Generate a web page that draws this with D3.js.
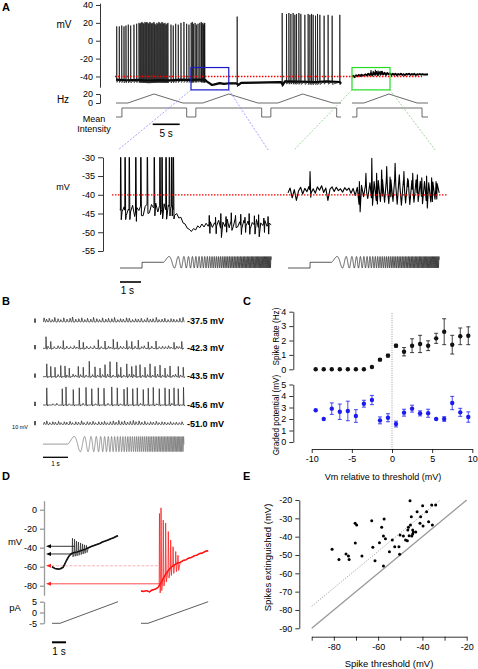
<!DOCTYPE html>
<html><head><meta charset="utf-8">
<script src="https://cdn.jsdelivr.net/npm/d3@7"></script>
<style>body{margin:0;background:#fff}</style>
</head><body>
<svg id="c" width="478" height="669" xmlns="http://www.w3.org/2000/svg"></svg>
<script>
// ================= DATA =================
// Panel A (top) – segment 1 baseline [s, mV] and spikes [s, peak mV]
const aTopBase1 = [[0,-43.5],[2,-44.2],[4,-43.8],[6,-44.5],[8,-44],[10,-44.3],[12,-43.6],[14,-43.8],[15.5,-43.4],[16.5,-43.8],[16.8,-45.5],[17.3,-47.5],[17.8,-49.5],[18.5,-48.5],[19.2,-47.5],[20,-48.2],[21,-47.6],[22.3,-47.8],[22.7,-49.5],[23.2,-47.2],[26,-46.8],[30.6,-46.4],[30.9,-49.5],[31.3,-45.5],[34,-45.8],[37,-46.2],[39,-45.5],[41.5,-46.2],[41.7,-48]];
const aTopSpikes1 = [[0.13,16],[0.61,16],[1.06,17],[1.48,16],[1.85,17],[2.28,18],[2.72,17],[3.33,18],[3.83,19],[4.26,20],[4.45,19],[4.62,20],[4.81,21],[5.0,20],[5.17,19],[5.37,21],[5.55,20],[5.72,21],[5.93,20],[6.1,19],[6.28,21],[6.48,20],[6.65,19],[6.84,20],[7.04,21],[7.2,19],[7.4,18],[7.59,20],[7.77,19],[7.96,21],[8.15,20],[8.33,19],[8.52,21],[8.7,20],[8.88,19],[9.07,20],[9.26,18],[9.44,19],[9.62,20],[10.19,18],[10.61,17],[11.06,19],[11.54,18],[12.04,20],[12.59,21],[13.09,19],[13.52,18],[13.93,20],[14.14,21],[14.34,19],[14.65,20],[14.89,18],[15.2,19],[15.53,20],[15.8,21],[15.9,19],[16.09,20],[16.25,18],[16.36,19],[16.44,20],[22.46,27],[30.8,31],[31.6,30],[32.04,31],[32.41,30],[32.83,31],[33.15,29],[33.46,30],[33.89,31],[34.26,30],[35.0,29],[35.61,30],[35.93,29],[36.24,30],[36.54,29],[36.98,28],[37.35,30],[37.78,29],[38.57,28],[39.31,29],[40.06,28],[41.48,29]];
// segment 2 (sampled every 0.25 s)
const aTopBase2 = [-40.5,-39.2,-40.8,-38.6,-39.9,-38.2,-39.5,-37.9,-39.1,-38.4,-37.6,-39.0,-36.8,-38.7,-36.2,-38.9,-35.5,-38.2,-34.8,-38.5,-35.2,-38.0,-34.5,-37.8,-35.8,-38.3,-36.0,-37.6,-36.5,-38.4,-37.0,-38.1,-36.8,-38.6,-37.2,-38.0,-36.9,-38.3,-37.4,-38.5,-37.1,-37.9,-36.8,-38.2,-37.3,-38.0,-37.0,-38.4,-37.5,-37.8,-37.2,-38.1,-37.4,-37.9,-37.6,-37.8,-37.5];
const aTopSpikes2 = [[3.5,-33],[3.9,-34],[4.3,-32.5],[4.8,-33.5],[5.3,-34]];
// Frequency (Hz) and mean-intensity protocol rows
const hz1 = [[0,0],[2.2,0],[7.04,20],[12.4,0],[16.1,0],[20.9,20],[26.3,0],[30,0],[34.6,20],[40.2,0],[41.7,0]];
const hz2 = [[0,0],[2.2,0],[6.8,20],[12,0],[14,0]];
const int1 = [[0,0],[1.1,0],[1.1,1],[13.1,1],[13.1,0],[14.8,0],[14.8,1],[27,1],[27,0],[28.7,0],[28.7,1],[40.9,1],[40.9,0],[41.7,0]];
const int2 = [[0,0],[0.9,0],[0.9,1],[12.9,1],[12.9,0],[14,0]];
const aTicks = [-40,-20,0,20,40];

// Panel A (lower) – sampled every 0.1 s
const aLowLeft = [-44.0,-44.5,-43.2,-45.5,-43.8,-44.6,-42.8,-45.8,-43.4,-44.2,-42.9,-45.6,-43.1,-42.5,-44.8,-42.6,-43.5,-42.2,-44.6,-42.8,-43.9,-42.4,-44.2,-42.7,-43.6,-42.9,-45.5,-45.0,-46.2,-46.0,-47.5,-47.8,-48.9,-49.2,-49.8,-49.0,-49.4,-48.3,-48.8,-47.8,-48.6,-47.6,-48.4,-47.2,-48.7,-47.5,-48.3,-46.8,-48.9,-47.3,-48.5,-46.5,-48.8,-47.0,-48.4,-46.3,-48.6,-47.2,-49.0,-46.8,-48.3,-47.0,-49.1,-47.4,-48.0,-46.6,-48.7,-47.5,-48.2,-46.9,-48.4,-47.6,-48.0];
const aLowLeftSpikes = [[0.03,-20],[0.24,-20],[0.44,-20],[0.75,-20],[0.99,-20],[1.3,-20],[1.63,-20],[1.9,-20],[2.0,-20],[2.19,-20],[2.35,-20],[2.46,-20],[2.54,-20],[4.25,-45.5],[4.55,-46],[4.8,-45],[5.05,-45.8],[5.3,-44.8],[5.5,-45.5],[5.75,-45.2],[5.95,-46],[6.15,-45],[6.4,-45.6],[6.6,-45.3],[6.85,-46.2],[7.05,-45.8]];
const aLowRight = [-39.5,-38.2,-40.8,-38.6,-41.5,-39.0,-38.0,-39.8,-38.3,-39.2,-37.8,-39.5,-38.4,-39.6,-37.9,-38.8,-37.6,-39.4,-38.2,-41.5,-38.5,-37.9,-39.1,-38.0,-38.9,-38.4,-39.3,-38.1,-38.8,-38.2,-39.6,-38.3,-40.2,-38.0,-42.5,-37.5,-40.5,-37.0,-41.0,-36.8,-41.2,-36.5,-41.5,-36.2,-41.8,-36.0,-42.0,-36.3,-42.3,-36.0,-41.8,-35.8,-42.5,-36.1,-42.8,-36.0,-42.2,-35.7,-42.6,-36.2,-42.0,-36.0,-41.8,-36.4,-42.1,-36.5,-41.5,-36.8,-41.9,-36.6,-41.2,-37.0,-39.5];
const aLowRightSpikes = [[1.05,-33.8],[3.4,-36.5],[3.71,-34.3],[3.99,-30.3],[4.22,-34.3],[4.46,-33.4],[4.7,-32.5],[4.86,-35.3],[5.1,-31.6],[5.3,-34.7],[5.52,-33.8],[5.73,-36.1],[5.94,-34.3],[6.16,-34.7],[6.37,-35.5],[6.6,-35],[6.84,-35.5],[7.05,-36.5]];
const aLowTicks = [-55,-50,-45,-40,-35,-30];
// stimulus: [step time, chirp start, end, start Hz, end Hz]
const stimA = [1.05, 2.08, 7.2, 0.5, 20];
const stimB = [0, 1.0, 5.64, 0.5, 20];

// Panel B – events [s, amplitude mV]
const bLabels = ["-37.5 mV","-42.3 mV","-43.5 mV","-45.6 mV","-51.0 mV"];
const b1 = [[0.04,9],[0.14,6],[0.25,8],[0.37,5],[0.47,10],[0.6,7],[0.71,5],[0.83,9],[0.96,6],[1.08,8],[1.18,11],[1.31,6],[1.43,7],[1.55,9],[1.67,5],[1.78,8],[1.91,6],[2.02,10],[2.15,7],[2.26,5],[2.38,9],[2.51,6],[2.62,8],[2.75,7],[2.86,10],[2.99,5],[3.1,7],[3.21,6],[3.34,9],[3.45,8],[3.58,5],[3.7,7],[3.81,6],[3.93,8],[4.06,5],[4.17,9],[4.29,6],[4.4,7],[4.53,10],[4.64,5],[4.76,6],[4.87,8],[5.0,5],[5.12,7],[5.23,6],[5.35,5],[5.47,8],[5.6,10]];
const b2 = [[0.12,27],[0.2,5],[0.31,16],[0.45,4],[0.6,6],[0.7,4],[0.81,18],[0.95,5],[1.1,4],[1.25,6],[1.35,3],[1.45,19],[1.61,14],[1.75,5],[1.9,4],[2.05,6],[2.21,20],[2.33,4],[2.48,17],[2.62,5],[2.7,3],[2.81,21],[2.97,15],[3.1,5],[3.22,4],[3.35,18],[3.45,4],[3.55,16],[3.68,5],[3.81,19],[3.95,4],[4.05,6],[4.21,15],[4.35,5],[4.52,17],[4.65,4],[4.78,5],[4.9,4],[5.02,6],[5.12,3],[5.24,14],[5.35,5],[5.45,4],[5.55,16]];
const b3 = [[0.15,30],[0.31,24],[0.48,22],[0.6,5],[0.71,26],[0.88,25],[0.95,4],[1.05,20],[1.2,6],[1.3,4],[1.41,24],[1.5,5],[1.61,22],[1.72,4],[1.85,36],[1.98,5],[2.08,23],[2.18,4],[2.28,20],[2.38,5],[2.48,28],[2.58,6],[2.68,35],[2.8,4],[2.95,34],[3.02,5],[3.11,22],[3.23,4],[3.35,30],[3.45,6],[3.55,24],[3.63,5],[3.72,26],[3.88,28],[3.98,4],[4.08,22],[4.18,5],[4.28,30],[4.38,4],[4.48,24],[4.58,6],[4.68,27],[4.78,4],[4.88,20],[4.98,5],[5.08,25],[5.2,4],[5.3,6],[5.41,24],[5.5,4],[5.61,22]];
const b4 = [[0.15,40],[0.4,3],[0.55,4],[0.77,38],[0.92,42],[1.05,3],[1.21,36],[1.45,40],[1.6,4],[1.72,41],[1.95,38],[2.1,3],[2.21,40],[2.44,39],[2.6,4],[2.75,42],[2.97,40],[3.1,3],[3.24,37],[3.37,41],[3.59,38],[3.77,40],[3.9,4],[4.01,36],[4.21,39],[4.41,41],[4.55,3],[4.65,38],[4.88,40],[5.05,37],[5.15,4],[5.24,40],[5.41,38],[5.62,41]];
const b5 = [[0.05,5],[0.15,8],[0.27,4],[0.39,6],[0.49,5],[0.62,7],[0.72,4],[0.85,6],[0.95,5],[1.08,7],[1.18,4],[1.31,6],[1.42,5],[1.54,8],[1.64,4],[1.77,6],[1.88,5],[2.0,7],[2.1,4],[2.23,6],[2.35,5],[2.46,7],[2.57,4],[2.69,6],[2.81,8],[2.92,5],[3.03,9],[3.15,6],[3.26,8],[3.38,5],[3.49,7],[3.61,9],[3.72,6],[3.84,8],[3.95,5],[4.07,7],[4.18,4],[4.3,6],[4.41,5],[4.53,7],[4.64,4],[4.76,6],[4.87,5],[4.99,4],[5.1,6],[5.22,4],[5.33,5],[5.45,4],[5.56,6]];

// Panel C
const cX = [-9.5,-8.5,-7.5,-6.5,-5.5,-4.5,-3.5,-2.5,-1.5,-0.5,0.5,1.5,2.5,3.5,4.5,5.5,6.5,7.5,8.5,9.5];
const rate = [0,0,0,0,0,0,0,0.16,0.67,0.95,1.64,1.22,1.64,1.76,1.64,2.15,2.61,1.71,2.29,2.33];
const rateErr = [0,0,0,0,0,0,0,0.05,0.08,0.1,0.1,0.29,0.48,0.6,0.34,0.35,0.9,0.65,0.58,0.62];
const graded = [2.76,2.0,2.9,2.63,2.7,2.26,3.33,3.65,1.88,2.11,1.56,2.55,2.9,2.49,2.5,2.0,2.0,3.39,2.58,2.17];
const gradedErr = [0.06,0.05,0.5,0.67,0.85,0.55,0.3,0.4,0.3,0.35,0.25,0.3,0.3,0.22,0.35,0.06,0.2,0.58,0.35,0.45];

// Panel D – sampled every 0.2 s (last point at end)
const dBlack = [-60,-61.8,-62.5,-62.2,-60.5,-54.5,-49,-46,-45,-44.5,-43.5,-42.5,-41.5,-40,-38.8,-37.6,-36.5,-35.5,-34,-33,-31.8,-30.5,-29.5,-28,-27.3];
const dBlackSpikes = [[1.46,-30],[1.61,-31],[1.75,-33],[1.89,-34],[2.04,-35],[2.18,-36],[2.32,-37],[2.46,-37.5]];
const dRed = [-85.5,-86,-85.2,-86.5,-84.5,-83.8,-82,-78,-72,-67,-63,-60,-58,-56,-55.5,-53.5,-52.8,-51,-50.2,-48.5,-47.8,-46,-45.5,-43.8,-43.2];
const dRedSpikes = [[1.32,-4],[1.43,2],[1.59,-11],[1.76,-14],[1.95,-23],[2.12,-32],[2.29,-39],[2.48,-44],[2.64,-48]];
const dRampBlack = [[0,-5],[0.57,-5],[4.71,5]];
const dRampRed = [[0,-5],[0.5,-5],[4.8,5]];
const dArrowsBlack = [[1.64,-38.5],[1.5,-46.6]];
const dArrowsRed = [[1.21,-59,true],[1.36,-78,false]];

// Panel E
const eThresh = [-80.8,-77.7,-74.5,-73.4,-73.1,-70.3,-70.4,-69.7,-67.3,-62.9,-62.4,-61.4,-57.3,-58.4,-57.6,-56.7,-59.4,-57.6,-54.9,-53.6,-52.5,-50.6,-50.3,-50.1,-48.6,-47.6,-46.8,-46.6,-46.3,-46.0,-45.6,-45.4,-45.0,-44.8,-44.4,-44.4,-44.1,-43.0,-42.4,-41.1,-40.8,-39.9,-39.7,-38.1,-37.2,-35.8,-35.5,-34.0];
const eExt = [-46.9,-52.4,-49.5,-50.5,-52.4,-43.5,-32.7,-33.6,-50.5,-31.3,-45.8,-53.1,-30.4,-34.9,-39.6,-41.1,-43.3,-56.0,-48.2,-41.8,-45.5,-45.5,-49.6,-39.1,-39.6,-41.8,-42.2,-36.4,-34.9,-39.5,-20.4,-33.6,-29.1,-39.6,-36.4,-38.5,-37.5,-37.5,-26.4,-32.7,-29.1,-23.1,-34.2,-26.4,-31.8,-22.7,-33.6,-22.7];

// ================= HELPERS =================
const FF = "'Liberation Sans', Arial, Helvetica, sans-serif";
const svg = d3.select("#c");
svg.append("rect").attr("width",478).attr("height",669).attr("fill","#fff");

function txt(x, y, s, o = {}) {
  const t = svg.append("text").attr("x", x).attr("y", y).text(s)
    .attr("font-family", FF).attr("font-size", o.size || 9)
    .attr("text-anchor", o.anchor || "start").attr("fill", o.fill || "#000");
  if (o.bold) t.attr("font-weight", "bold");
  if (o.rot) t.attr("transform", `rotate(${o.rot},${x},${y})`);
  if (o.dy) t.attr("dy", o.dy);
  return t;
}
function axis(g, ax, color = "#000", w = 0.8, size = 9) {
  g.call(ax);
  g.attr("font-family", FF).attr("font-size", size);
  g.selectAll(".domain, .tick line").attr("stroke", color).attr("stroke-width", w);
  g.selectAll(".tick text").attr("fill", "#000");
}
const fmt = d => String(d);
function sampled(vals, dt, tEnd) {
  return vals.map((v, i) => [Math.min(i * dt, tEnd !== undefined ? tEnd : 1e9), v]);
}
function interp(s, t) {
  if (t <= s[0][0]) return s[0][1];
  for (let i = 1; i < s.length; i++) if (t <= s[i][0]) {
    const a = s[i-1], b = s[i]; const f = (t - a[0]) / (b[0] - a[0] || 1);
    return a[1] + f * (b[1] - a[1]);
  }
  return s[s.length-1][1];
}
function withSpikes(base, spikes, up, down, ahp) {
  const win = spikes.map(d => [d[0] - up, d[0] + down]);
  let pts = base.filter(p => !win.some(w => p[0] > w[0] && p[0] < w[1]));
  spikes.forEach(([ts, pk]) => {
    const b = interp(base, ts);
    pts.push([ts - up, b], [ts, pk], [ts + down, b - ahp]);
  });
  return pts.sort((a, b) => a[0] - b[0]);
}
function events(list, tEnd) {
  const pts = [[0, 0]];
  list.forEach(([t, a]) => {
    if (a > 12) pts.push([t - 0.008, 0], [t, a], [t + 0.016, a * 0.12], [t + 0.035, -2.5], [t + 0.06, 0]);
    else pts.push([t - 0.02, 0], [t, a], [t + 0.03, a * 0.3], [t + 0.055, -a * 0.12]);
  });
  pts.push([tEnd, 0]);
  return pts.sort((a, b) => a[0] - b[0]);
}
function chirp(p, tEnd) {
  const [tStep, tChirp, tE, f0, f1] = p;
  const pts = [];
  if (tStep > 0) pts.push([0, -1], [tStep, -1]);
  pts.push([tStep, 0], [tChirp, 0]);
  const k = (f1 - f0) / (tE - tChirp);
  for (let t = tChirp; t <= tE; t += 0.0025) {
    const u = t - tChirp;
    pts.push([t, Math.sin(2 * Math.PI * (f0 * u + k * u * u / 2))]);
  }
  return pts;
}
function path(pts, xs, ys, stroke, w, extra = {}) {
  const p = svg.append("path").attr("d", d3.line().x(d => xs(d[0])).y(d => ys(d[1]))(pts))
    .attr("fill", "none").attr("stroke", stroke).attr("stroke-width", w)
    .attr("stroke-linejoin", "round");
  if (extra.dash) p.attr("stroke-dasharray", extra.dash);
  if (extra.clip) p.attr("clip-path", extra.clip);
  if (extra.opacity) p.attr("opacity", extra.opacity);
  return p;
}

// ================= PANEL A (top) =================
txt(2, 11, "A", { size: 11, bold: true });
const xA1 = d3.scaleLinear().domain([0, 41.7]).range([116, 341]);
const xA2 = d3.scaleLinear().domain([0, 14]).range([352, 428]);
const yA = d3.scaleLinear().domain([-52, 42]).range([87.2, 3.2]);
const yHz = d3.scaleLinear().domain([0, 20]).range([103, 94]);
const yInt = d3.scaleLinear().domain([0, 1]).range([117, 108]);

axis(svg.append("g").attr("transform", "translate(100,0)"),
  d3.axisLeft(yA).tickValues(aTicks).tickSize(4).tickSizeOuter(0).tickPadding(3).tickFormat(fmt));
axis(svg.append("g").attr("transform", "translate(100,0)"),
  d3.axisLeft(yHz).tickValues([0, 20]).tickSize(4).tickSizeOuter(0).tickPadding(3).tickFormat(fmt));
txt(64, 28, "mV", { size: 10, anchor: "middle" });
txt(63, 103, "Hz", { size: 10, anchor: "middle" });
txt(94, 122, "Mean", { size: 9, anchor: "middle" });
txt(94, 131.5, "Intensity", { size: 9, anchor: "middle" });

// traces
path(aTopBase1, xA1, yA, "#000", 2.2);
path(withSpikes(aTopBase1, aTopSpikes1, 0.015, 0.04, 3), xA1, yA, "#111", 0.75);
const seg2 = sampled(aTopBase2, 0.25, 14);
path(seg2, xA2, yA, "#000", 1.8);
path(withSpikes(seg2, aTopSpikes2, 0.03, 0.05, 1), xA2, yA, "#000", 0.7);

// threshold line
svg.append("line").attr("x1", xA1(-0.2)).attr("x2", xA2(12.9)).attr("y1", yA(-40)).attr("y2", yA(-40))
  .attr("stroke", "#ff0000").attr("stroke-width", 1.3).attr("stroke-dasharray", "1.5,1.5");

// protocol rows
path(hz1, xA1, yHz, "#444", 0.8); path(hz2, xA2, yHz, "#444", 0.8);
path(int1, xA1, yInt, "#444", 0.8); path(int2, xA2, yInt, "#444", 0.8);

// scale bar 5 s
svg.append("line").attr("x1", xA1(6.8)).attr("x2", xA1(11.8)).attr("y1", 124.3).attr("y2", 124.3).attr("stroke", "#000").attr("stroke-width", 1.6);
txt(xA1(9.3), 137, "5 s", { size: 10, anchor: "middle" });

// zoom boxes
const boxB = [13.9, 20.9], boxG = [0, 7.0];
svg.append("rect").attr("x", xA1(boxB[0])).attr("y", yA(-30)).attr("width", xA1(boxB[1]) - xA1(boxB[0])).attr("height", yA(-55) - yA(-30))
  .attr("fill", "none").attr("stroke", "#1818c8").attr("stroke-width", 1.2);
svg.append("rect").attr("x", xA2(boxG[0])).attr("y", yA(-30)).attr("width", xA2(boxG[1]) - xA2(boxG[0])).attr("height", yA(-55) - yA(-30))
  .attr("fill", "none").attr("stroke", "#22dd22").attr("stroke-width", 1.2);

// ================= PANEL A (lower) =================
const xL1 = d3.scaleLinear().domain([0, 7.2]).range([120, 271.2]);
const xL2 = d3.scaleLinear().domain([0, 7.2]).range([288, 439.2]);
const yL = d3.scaleLinear().domain([-55, -30]).range([251, 157.3]);
const yStimA = d3.scaleLinear().domain([-1, 1]).range([268, 256.5]);

// connector lines
[[xA1(boxB[0]), xL1(0) - 2, "#8c8cff"], [xA1(boxB[1]), xL1(7.2) - 3, "#8c8cff"],
 [xA2(boxG[0]), xL2(0) + 6, "#88cc88"], [xA2(boxG[1]), xL2(7.2) - 4, "#88cc88"]].forEach(([x1, x2, c]) => {
  svg.append("line").attr("x1", x1).attr("y1", yA(-55)).attr("x2", x2).attr("y2", 150)
    .attr("stroke", c).attr("stroke-width", 0.8).attr("stroke-dasharray", "2,1.5");
});

axis(svg.append("g").attr("transform", "translate(103,0)"),
  d3.axisLeft(yL).tickValues(aLowTicks).tickSize(5).tickSizeOuter(0).tickPadding(3).tickFormat(fmt));
txt(63, 190, "mV", { size: 9, anchor: "middle" });

svg.append("clipPath").attr("id", "clipL").append("rect").attr("x", 100).attr("y", yL(-30)).attr("width", 378).attr("height", 120);
const left = sampled(aLowLeft, 0.1, 7.2);
path(withSpikes(left, aLowLeftSpikes, 0.012, 0.03, 2.5), xL1, yL, "#000", 1.0, { clip: "url(#clipL)" });
const right = sampled(aLowRight, 0.1, 7.2);
path(withSpikes(right, aLowRightSpikes, 0.02, 0.035, 2), xL2, yL, "#000", 1.1, { clip: "url(#clipL)" });

svg.append("line").attr("x1", 112).attr("x2", 447).attr("y1", yL(-40)).attr("y2", yL(-40))
  .attr("stroke", "#ff0000").attr("stroke-width", 1.3).attr("stroke-dasharray", "1.5,1.5");

const chA = chirp(stimA, 7.2);
path(chA, xL1, yStimA, "#222", 0.75);
path(chA, xL2, yStimA, "#222", 0.75);
svg.append("line").attr("x1", xL1(0)).attr("x2", xL1(1)).attr("y1", 282).attr("y2", 282).attr("stroke", "#000").attr("stroke-width", 1.6);
txt(xL1(0.35), 294, "1 s", { size: 10, anchor: "middle" });

// ================= PANEL B =================
txt(2, 305, "B", { size: 11, bold: true });
const xB = d3.scaleLinear().domain([0, 5.64]).range([43, 184]);
const bBaseY = [321.7, 348.3, 376.7, 405, 424.3];
[b1, b2, b3, b4, b5].forEach((ev, i) => {
  const yB = d3.scaleLinear().domain([0, 10]).range([bBaseY[i], bBaseY[i] - 4.3]);
  path(events(ev, 5.64), xB, yB, "#222", 0.7);
  svg.append("line").attr("x1", 35).attr("x2", 35).attr("y1", yB(0) + 1).attr("y2", yB(10) + 1).attr("stroke", "#000").attr("stroke-width", 1.3);
  txt(187, bBaseY[i] + 2.5, bLabels[i], { size: 9, bold: true });
});
txt(28, 428.5, "10 mV", { size: 5.5, anchor: "end" });
const yStimB = d3.scaleLinear().domain([-1, 1]).range([451.7, 436.5]);
path(chirp(stimB, 5.64), xB, yStimB, "#555", 0.6);
svg.append("line").attr("x1", xB(0)).attr("x2", xB(1)).attr("y1", 457.3).attr("y2", 457.3).attr("stroke", "#000").attr("stroke-width", 1.3);
txt(xB(0.5), 466, "1 s", { size: 6.5, anchor: "middle" });

// ================= PANEL C =================
txt(243, 305, "C", { size: 11, bold: true });
const xC = d3.scaleLinear().domain([-10, 10]).range([311.7, 472.3]);
const yC1 = d3.scaleLinear().domain([0, 4]).range([369.3, 311.7]);
const yC2 = d3.scaleLinear().domain([0, 5]).range([442, 384.5]);
axis(svg.append("g").attr("transform", "translate(0,449)"),
  d3.axisBottom(xC).tickValues([-10, -5, 0, 5, 10]).tickSize(4).tickSizeOuter(0).tickPadding(3).tickFormat(fmt), "#000", 0.8, 9);
axis(svg.append("g").attr("transform", "translate(293.3,0)"),
  d3.axisLeft(yC1).tickValues([0, 1, 2, 3, 4]).tickSize(4).tickSizeOuter(0).tickPadding(3).tickFormat(fmt));
axis(svg.append("g").attr("transform", "translate(293.3,0)"),
  d3.axisLeft(yC2).tickValues([0, 1, 2, 3, 4, 5]).tickSize(4).tickSizeOuter(0).tickPadding(3).tickFormat(fmt));
svg.append("line").attr("x1", xC(0)).attr("x2", xC(0)).attr("y1", 313).attr("y2", 449)
  .attr("stroke", "#888").attr("stroke-width", 0.8).attr("stroke-dasharray", "1,1.3");
txt(276, 336.5, "Spike Rate (Hz)", { size: 8.2, anchor: "middle", rot: -90, dy: "0.35em" });
txt(276, 415, "Graded potential (mV)", { size: 8.2, anchor: "middle", rot: -90, dy: "0.35em" });
txt(383, 480, "Vm relative to threshold (mV)", { size: 9, anchor: "middle" });
function errPlot(vals, errs, ys, color) {
  cX.forEach((x, i) => {
    const e = errs[i];
    if (e > 0.07) {
      const g = svg.append("g").attr("stroke", color).attr("stroke-width", 0.8);
      g.append("line").attr("x1", xC(x)).attr("x2", xC(x)).attr("y1", ys(vals[i] - e)).attr("y2", ys(vals[i] + e));
      [vals[i] - e, vals[i] + e].forEach(v => g.append("line").attr("x1", xC(x) - 2).attr("x2", xC(x) + 2).attr("y1", ys(v)).attr("y2", ys(v)));
    }
    svg.append("circle").attr("cx", xC(x)).attr("cy", ys(vals[i])).attr("r", 2.2).attr("fill", color);
  });
}
errPlot(rate, rateErr, yC1, "#111");
errPlot(graded, gradedErr, yC2, "#1c1cf0");

// ================= PANEL D =================
txt(2, 480, "D", { size: 11, bold: true });
const xD1 = d3.scaleLinear().domain([0, 4.71]).range([52, 118]);
const xD2 = d3.scaleLinear().domain([0, 4.8]).range([141, 208.2]);
const yD = d3.scaleLinear().domain([-90, 9.5]).range([595.2, 500.7]);
const yPA = d3.scaleLinear().domain([-5, 5]).range([623.3, 601.7]);
axis(svg.append("g").attr("transform", "translate(44,0)"),
  d3.axisLeft(yD).tickValues([0, -20, -40, -60, -80]).tickSize(4).tickSizeOuter(0).tickPadding(3).tickFormat(fmt), "#999", 1.3);
axis(svg.append("g").attr("transform", "translate(44,0)"),
  d3.axisLeft(yPA).tickValues([-5, 0, 5]).tickSize(4).tickSizeOuter(0).tickPadding(3).tickFormat(fmt), "#999", 1.3);
txt(15, 544.5, "mV", { size: 9.5, anchor: "middle" });
txt(15, 611, "pA", { size: 9.5, anchor: "middle" });

// arrows
function arrow(x0, v, color, headColor, dash) {
  const y = yD(v);
  const l = svg.append("line").attr("x1", x0).attr("x2", 49).attr("y1", y).attr("y2", y)
    .attr("stroke", color).attr("stroke-width", 0.8);
  if (dash) l.attr("stroke-dasharray", dash);
  svg.append("path").attr("d", `M46,${y} L51,${y - 2} L51,${y + 2} Z`).attr("fill", headColor);
}
dArrowsBlack.forEach(([t, v]) => arrow(xD1(t), v, "#000", "#000"));
dArrowsRed.forEach(([t, v, dashed]) => arrow(xD2(t), v, dashed ? "#f8a0a0" : "#ff2020", "#ff2020", dashed ? "3,1.5" : null));

const dB = sampled(dBlack, 0.2, 4.71);
path(dB, xD1, yD, "#000", 1.6);
path(withSpikes(dB, dBlackSpikes, 0.02, 0.04, 4), xD1, yD, "#222", 0.7);
const dR = sampled(dRed, 0.2, 4.8);
path(dR, xD2, yD, "#ff0000", 1.5);
path(withSpikes(dR, dRedSpikes, 0.02, 0.05, 8), xD2, yD, "#ff2020", 0.8);
path(dRampBlack, xD1, yPA, "#333", 0.8);
path(dRampRed, xD2, yPA, "#333", 0.8);
svg.append("line").attr("x1", xD1(0)).attr("x2", xD1(1)).attr("y1", 642.3).attr("y2", 642.3).attr("stroke", "#000").attr("stroke-width", 2);
txt(xD1(0.5), 655, "1 s", { size: 10, anchor: "middle" });

// ================= PANEL E =================
txt(243, 480, "E", { size: 11, bold: true });
const xE = d3.scaleLinear().domain([-90, -20]).range([311.7, 466.7]);
const yE = d3.scaleLinear().domain([-90, -20]).range([628.3, 500]);
const eTicks = [-90, -80, -70, -60, -50, -40, -30, -20];
axis(svg.append("g").attr("transform", "translate(299.3,0)"),
  d3.axisLeft(yE).tickValues(eTicks).tickSize(4).tickSizeOuter(0).tickPadding(3).tickFormat(fmt));
axis(svg.append("g").attr("transform", "translate(0,636.7)"),
  d3.axisBottom(xE).tickValues(eTicks).tickSize(4).tickSizeOuter(0).tickPadding(3).tickFormat(d => d % 20 === 0 ? String(d) : ""));
txt(268, 557.5, "Spikes extinguished (mV)", { size: 9.5, anchor: "middle", rot: -90, dy: "0.35em" });
txt(389, 666.5, "Spike threshold (mV)", { size: 9.5, anchor: "middle" });
svg.append("line").attr("x1", xE(-90)).attr("y1", yE(-90)).attr("x2", xE(-20)).attr("y2", yE(-20))
  .attr("stroke", "#999").attr("stroke-width", 1.3);
svg.append("line").attr("x1", xE(-90)).attr("y1", yE(-78)).attr("x2", xE(-32)).attr("y2", yE(-20))
  .attr("stroke", "#999").attr("stroke-width", 0.9).attr("stroke-dasharray", "1.2,1.5");
eThresh.forEach((x, i) => svg.append("circle").attr("cx", xE(x)).attr("cy", yE(eExt[i])).attr("r", 1.5).attr("fill", "#000"));
</script>
</body></html>
